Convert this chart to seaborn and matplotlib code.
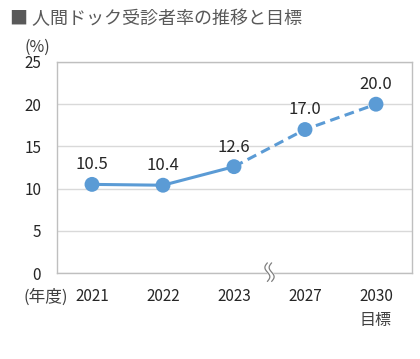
import matplotlib
matplotlib.use("Agg")
import matplotlib.pyplot as plt
import seaborn as sns
import pandas as pd
import numpy as np

years = ["2021", "2022", "2023", "2027", "2030"]
rates = [10.5, 10.4, 12.6, 17.0, 20.0]
yticks = [0, 5, 10, 15, 20, 25]
title = "■ 人間ドック受診者率の推移と目標"

sns.set_theme(style="white")
plt.rcParams['font.family'] = ['Noto Sans CJK JP', 'DejaVu Sans']

pos = list(range(len(years)))
df = pd.DataFrame({"pos": pos, "rate": rates, "year": years})
actual = df.iloc[:3]
target = df.iloc[2:]

fig = plt.figure(figsize=(4.2, 3.59), dpi=100)
ax = fig.add_axes([56.5/420, 1-273/359, 355/420, 211/359])

color = "#5B9BD5"
sns.lineplot(data=actual, x="pos", y="rate", ax=ax, color=color, lw=2.2, zorder=3)
sns.lineplot(data=target, x="pos", y="rate", ax=ax, color=color, lw=2.2, zorder=3)
ax.lines[-1].set_dashes([3.2, 1.8])
sns.scatterplot(data=df, x="pos", y="rate", ax=ax, color=color, s=115, zorder=4, edgecolor="none")

for p, r in zip(pos, rates):
    ax.annotate(f"{r:.1f}", (p, r), xytext=(0, 8), textcoords="offset points",
                ha="center", va="bottom", fontsize=12, color="#262626")

ax.set_xlim(-0.5, 4.5)
ax.set_ylim(0, 25)
ax.set_yticks(yticks)
ax.set_yticklabels([str(t) for t in yticks], fontsize=11, color="#262626")
ax.set_xticks(pos)
ax.set_xticklabels(years, fontsize=11, color="#262626")
ax.tick_params(axis="y", length=0, pad=11)
ax.tick_params(axis="x", length=0, pad=11)
ax.grid(axis="y", color="#D9D9D9", lw=1)
ax.set_axisbelow(True)
ax.set_xlabel("")
ax.set_ylabel("")
for s in ax.spines.values():
    s.set_color("#BFBFBF")
    s.set_linewidth(1)

# axis break mark
t = np.linspace(0, 1, 30)
bx = 2.5 + 0.035 * np.sin(t * 2 * np.pi)
by = -1.0 + 2.2 * t
ax.fill_betweenx(by, bx - 0.035, bx + 0.035, color="white", zorder=5, clip_on=False)
ax.plot(bx - 0.03, by, color="#7F7F7F", lw=0.9, clip_on=False, zorder=6)
ax.plot(bx + 0.03, by, color="#7F7F7F", lw=0.9, clip_on=False, zorder=6)

fig.text(10/420, 1-19/359, title, fontsize=13, color="#595959", va="center", ha="left")
fig.text(37/420, 1-47/359, "(%)", fontsize=11.5, color="#404040", va="center", ha="center")
fig.text(46/420, 1-297/359, "(年度)", fontsize=12, color="#404040", va="center", ha="center")
ax.annotate("目標", (4, 0), xytext=(0, -34), textcoords="offset points",
            ha="center", va="center", fontsize=11.5, color="#404040", annotation_clip=False)

fig.savefig("out.png", dpi=100, facecolor="white")
